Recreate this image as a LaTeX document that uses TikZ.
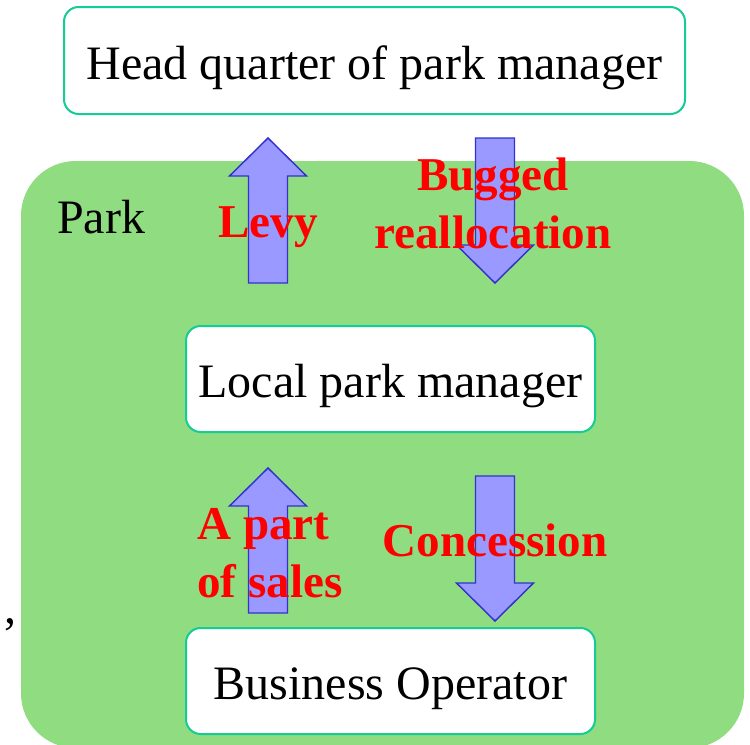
\documentclass[tikz,border=0pt]{standalone}
\usepackage{fontspec}
\setmainfont{Liberation Serif}
\definecolor{parkgreen}{RGB}{144,220,128}
\definecolor{boxteal}{RGB}{20,204,150}
\definecolor{arrowfill}{RGB}{153,153,255}
\definecolor{arrowdraw}{RGB}{51,51,204}
\definecolor{labelred}{RGB}{255,0,0}
\begin{document}
\begin{tikzpicture}[x=0.75pt,y=-0.75pt,
  box/.style={draw=boxteal, line width=1.5pt, fill=white, rounded corners=11pt,
    inner xsep=0pt, inner ysep=0pt, text depth=26.25pt,
    font=\fontsize{36}{43}\selectfont},
  redlabel/.style={text=labelred, inner sep=0pt,
    font=\fontsize{35.3}{43.5}\selectfont\bfseries},
  blockarrow/.pic={
    \draw[fill=arrowfill, draw=arrowdraw, line width=1.1pt, line join=miter]
      (-19.5,0) -- (-19.5,-107) -- (-38.5,-107) -- (0,-145) -- (38.5,-107)
      -- (19.5,-107) -- (19.5,0) -- cycle;
  }]
\useasboundingbox (0,0) rectangle (750,744);
% park area
\fill[parkgreen, rounded corners=41pt] (21,161) rectangle (744,748);
\node[anchor=base west, inner sep=0pt, font=\fontsize{36}{43}\selectfont] (park) at (57,233) {Park};
\node[anchor=base west, inner sep=0pt, font=\fontsize{36}{43}\selectfont] (comma) at (4,623) {,};
% boxes
\node[box, minimum width=465.75pt, text height=54pt, anchor=base] (hq) at (374.5,79) {Head quarter of park manager};
\node[box, minimum width=306.75pt, text height=53.25pt, anchor=base] (local) at (390.5,397) {Local park manager};
\node[box, minimum width=306.75pt, text height=53.25pt, anchor=base] (biz) at (390.5,699) {Business Operator};
% block arrows
\pic at (268,283) {blockarrow};
\pic[rotate=180] at (495,138) {blockarrow};
\pic at (268,613) {blockarrow};
\pic[rotate=180] at (495,476) {blockarrow};
% labels
\node[redlabel, anchor=base] (levy) at (268,237) {Levy};
\node[redlabel, anchor=base, align=center] (bugged) at (493,248) {Bugged\\reallocation};
\node[redlabel, anchor=base west, align=left] (sales) at (197,597) {A part\\of sales};
\node[redlabel, anchor=base] (concession) at (495,556) {Concession};
\end{tikzpicture}
\end{document}
